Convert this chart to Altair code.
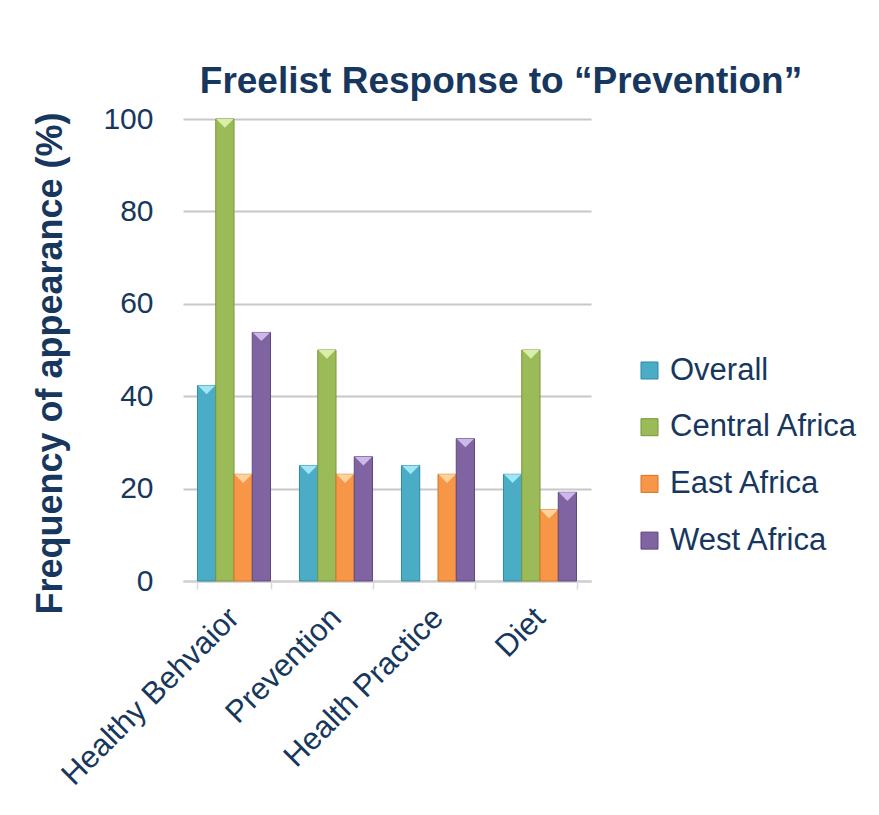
import altair as alt
import pandas as pd

# Freelist categories and the frequency (%) each region mentioned them
categories = ["Healthy Behvaior", "Prevention", "Health Practice", "Diet"]
series = ["Overall", "Central Africa", "East Africa", "West Africa"]
overall = [42.3, 25.0, 25.0, 23.1]
central_africa = [100.0, 50.0, 0.0, 50.0]
east_africa = [23.1, 23.1, 23.1, 15.4]
west_africa = [53.8, 26.9, 30.8, 19.2]

colors = ["#4BACC6", "#9BBB59", "#F79646", "#8064A2"]
edge_colors = ["#2E8AA3", "#78963A", "#D2762A", "#5F4880"]
bevel_colors = ["#9FE6F7", "#D9EEA6", "#FFD29A", "#CDB8EA"]

rows = []
for name, values in zip(series, [overall, central_africa, east_africa, west_africa]):
    for cat, v in zip(categories, values):
        rows.append({"Category": cat, "Series": name, "Value": v})
df = pd.DataFrame(rows)

navy = "#17375E"
font = "Liberation Sans"

x_enc = alt.X(
    "Category:N",
    sort=categories,
    scale=alt.Scale(domain=categories, paddingInner=0.284, paddingOuter=0.142),
    axis=alt.Axis(
        title=None,
        labelAngle=-45,
        labelAlign="right",
        labelBaseline="middle",
        labelFontSize=31,
        labelColor=navy,
        labelFont=font,
        labelPadding=24,
        labelLimit=0,
        domainColor="#D0D0D0",
        domainWidth=2,
        tickColor="#D9D9D9",
        tickBand="extent",
        tickSize=8,
        tickWidth=1.5,
        grid=False,
    ),
)
xoff = alt.XOffset(
    "Series:N", sort=series, scale=alt.Scale(domain=series, paddingInner=0, paddingOuter=0)
)
color_enc = alt.Color(
    "Series:N",
    sort=series,
    scale=alt.Scale(domain=series, range=colors),
    legend=alt.Legend(
        title=None,
        orient="none",
        legendX=451,
        legendY=236,
        symbolType="square",
        symbolSize=290,
        symbolStrokeWidth=1,
        symbolStrokeColor="#6F6F6F",
        labelFontSize=31,
        labelColor=navy,
        labelFont=font,
        labelOffset=5,
        rowPadding=24.7,
        labelLimit=400,
    ),
)

y_enc = alt.Y(
    "Value:Q",
    scale=alt.Scale(domain=[0, 100]),
    axis=alt.Axis(
        title="Frequency of appearance (%)",
        titleFontSize=36,
        titleFont=font,
        titleFontWeight="bold",
        titleColor=navy,
        titleAngle=-90,
        titleAlign="center",
        titleBaseline="middle",
        titleX=-133,
        titleY=244,
        values=[0, 20, 40, 60, 80, 100],
        labelFontSize=30,
        labelColor=navy,
        labelFont=font,
        labelPadding=30,
        domain=False,
        ticks=False,
        gridColor="#C8C8C8",
        gridWidth=2,
    ),
)

bars = alt.Chart(df).transform_filter("datum.Value > 0").mark_bar(strokeWidth=1).encode(
    x=x_enc,
    xOffset=xoff,
    y=y_enc,
    color=color_enc,
    stroke=alt.Stroke(
        "Series:N", sort=series, scale=alt.Scale(domain=series, range=edge_colors), legend=None
    ),
)

# light bevel facet on top of each bar
bevel = alt.Chart(df).transform_filter("datum.Value > 0").mark_point(
    shape="M -1 0 L 1 0 L 0 1 Z", filled=True, opacity=1, size=300
).encode(
    x=x_enc,
    xOffset=xoff,
    y=y_enc,
    fill=alt.Fill(
        "Series:N", sort=series, scale=alt.Scale(domain=series, range=bevel_colors), legend=None
    ),
)

chart = (
    alt.layer(bars, bevel)
    .resolve_scale(fill="independent")
    .properties(
        width=408,
        height=462,
        background="white",
        autosize=alt.AutoSizeParams(type="none"),
        padding={"left": 183, "top": 119, "right": 288, "bottom": 234},
        title=alt.TitleParams(
            "Freelist Response to \u201cPrevention\u201d",
            fontSize=37,
            font=font,
            fontWeight="bold",
            color=navy,
            anchor="middle",
            dx=114,
            offset=3,
        ),
    )
    .configure_view(strokeWidth=0)
)

chart.save("out.html", embed_options={"renderer": "svg", "actions": False})
